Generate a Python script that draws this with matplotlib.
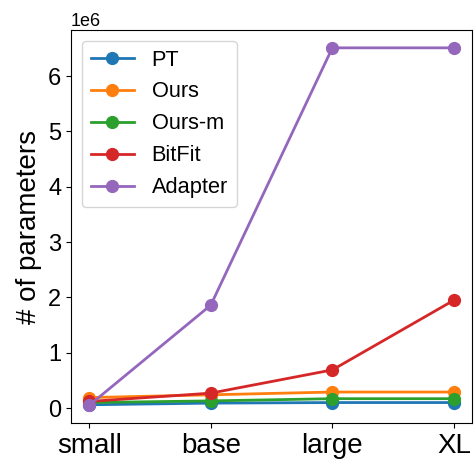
import matplotlib
matplotlib.use("Agg")
import matplotlib.pyplot as plt

plt.rcParams['font.family'] = ['Liberation Sans', 'DejaVu Sans']

sizes = ["small", "base", "large", "XL"]
pt = [0.06e6, 0.09e6, 0.10e6, 0.10e6]
ours = [0.19e6, 0.24e6, 0.29e6, 0.29e6]
ours_m = [0.10e6, 0.13e6, 0.17e6, 0.17e6]
bitfit = [0.12e6, 0.27e6, 0.69e6, 1.95e6]
adapter = [0.05e6, 1.86e6, 6.51e6, 6.51e6]

fig, ax = plt.subplots(figsize=(4.76, 4.61), dpi=100)
x = list(range(len(sizes)))
for vals, lab in [(pt, "PT"), (ours, "Ours"), (ours_m, "Ours-m"), (bitfit, "BitFit"), (adapter, "Adapter")]:
    ax.plot(x, vals, marker='o', markersize=8.5, linewidth=2, label=lab)
ax.set_xticks(x)
ax.set_xticklabels(sizes)
ax.tick_params(axis='x', labelsize=20)
ax.tick_params(axis='y', labelsize=17)
ax.yaxis.get_offset_text().set_fontsize(13)
ax.set_ylabel("# of parameters", fontsize=20)
ax.legend(fontsize=15.7, loc='upper left', markerscale=1.0)
fig.subplots_adjust(left=0.149, right=0.992, top=0.935, bottom=0.082)
fig.savefig("out.png")
